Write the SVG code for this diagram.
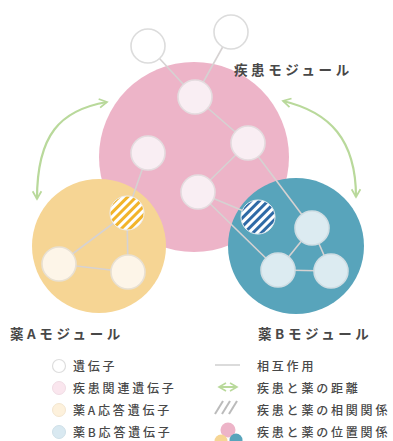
<svg xmlns="http://www.w3.org/2000/svg" width="393" height="441" viewBox="0 0 393 441">
<style>
.t{font-family:"Noto Sans CJK JP","Noto Sans",sans-serif;fill:#484848}
.lab{font-size:13.5px;font-weight:700;letter-spacing:3.6px}
.leg{font-size:12px;font-weight:500;letter-spacing:2.8px}
.edge{stroke:#d6d2d2;stroke-width:1.6;fill:none}
.arr{stroke:#b9d99b;stroke-width:2.2;fill:none;marker-start:url(#ah);marker-end:url(#ah)}
.gene{fill:#fff;stroke:#dcdcdc;stroke-width:1.6}
.dn{fill:#f9eef3;stroke:#e4dcdf;stroke-width:1.6}
.an{fill:#fdf5e8;stroke:#e8e0d2;stroke-width:1.6}
.bn{fill:#dcebf1;stroke:#cfdde3;stroke-width:1.6}
</style>
<defs>
<marker id="ah" viewBox="0 0 10 10" refX="8" refY="5" markerWidth="5" markerHeight="5" orient="auto-start-reverse" markerUnits="strokeWidth">
<path d="M1,1 L8,5 L1,9" fill="none" stroke="#b9d99b" stroke-width="1.6"/>
</marker>
<pattern id="hy" width="6" height="6" patternUnits="userSpaceOnUse" patternTransform="rotate(45)">
<rect width="6" height="6" fill="#fff"/><rect width="3" height="6" fill="#f2b42a"/>
</pattern>
<pattern id="hb" width="6" height="6" patternUnits="userSpaceOnUse" patternTransform="rotate(45)">
<rect width="6" height="6" fill="#fff"/><rect width="3" height="6" fill="#2f6aa6"/>
</pattern>
</defs>

<g id="disease-module"><circle cx="194" cy="157" r="95" fill="#edb4c8"/></g>
<g id="drugA-module"><circle cx="99" cy="246" r="67" fill="#f6d594"/></g>
<g id="drugB-module"><circle cx="296" cy="246" r="68" fill="#58a4bb"/></g>

<g id="connectors">
<line class="edge" x1="148" y1="46" x2="195" y2="97"/>
<line class="edge" x1="231" y1="32" x2="195" y2="97"/>
<line class="edge" x1="195" y1="97" x2="248" y2="143"/>
<line class="edge" x1="248" y1="143" x2="198" y2="192"/>
<line class="edge" x1="148" y1="153" x2="127" y2="213"/>
<line class="edge" x1="248" y1="143" x2="312" y2="228"/>
<line class="edge" x1="198" y1="192" x2="258" y2="217"/>
<line class="edge" x1="198" y1="192" x2="278" y2="270"/>
<line class="edge" x1="127" y1="213" x2="59" y2="264"/>
<line class="edge" x1="127" y1="213" x2="128" y2="272"/>
<line class="edge" x1="59" y1="264" x2="128" y2="272"/>
<line class="edge" x1="312" y1="228" x2="278" y2="270"/>
<line class="edge" x1="312" y1="228" x2="331" y2="271"/>
<line class="edge" x1="278" y1="270" x2="331" y2="271"/>
<path class="arr" d="M107,102 C60,110 37,135 37,199"/>
<path class="arr" d="M283,101 C330,112 356,140 356,197"/>
</g>

<g id="gene1"><circle class="gene" cx="148" cy="46" r="17"/></g>
<g id="gene2"><circle class="gene" cx="231" cy="32" r="17"/></g>
<g id="d1"><circle class="dn" cx="195" cy="97" r="17"/></g>
<g id="d2"><circle class="dn" cx="248" cy="143" r="17"/></g>
<g id="d3"><circle class="dn" cx="148" cy="153" r="17"/></g>
<g id="d4"><circle class="dn" cx="198" cy="192" r="17"/></g>
<g id="a-hatch"><circle cx="127" cy="213" r="17" fill="url(#hy)" stroke="#eee" stroke-width="1"/></g>
<g id="a1"><circle class="an" cx="59" cy="264" r="17"/></g>
<g id="a2"><circle class="an" cx="128" cy="272" r="17"/></g>
<g id="b-hatch"><circle cx="258" cy="217" r="17" fill="url(#hb)" stroke="#e8eef2" stroke-width="1"/></g>
<g id="b1"><circle class="bn" cx="312" cy="228" r="17"/></g>
<g id="b2"><circle class="bn" cx="278" cy="270" r="17"/></g>
<g id="b3"><circle class="bn" cx="331" cy="271" r="17"/></g>

<g id="labels">
<text class="t lab" x="234" y="75">疾患モジュール</text>
<text class="t lab" x="10" y="339">薬Aモジュール</text>
<text class="t lab" x="258" y="339">薬Bモジュール</text>
</g>

<g id="legend">
<circle cx="59" cy="366" r="6.5" fill="#fff" stroke="#ddd" stroke-width="1.2"/>
<circle cx="59" cy="388" r="6.5" fill="#fae6ee" stroke="#f0dce4" stroke-width="1"/>
<circle cx="59" cy="410" r="6.5" fill="#fdf1dc" stroke="#f3e6cf" stroke-width="1"/>
<circle cx="59" cy="432" r="6.5" fill="#d9e9f1" stroke="#cfe0e8" stroke-width="1"/>
<text class="t leg" x="73" y="371">遺伝子</text>
<text class="t leg" x="73" y="393">疾患関連遺伝子</text>
<text class="t leg" x="73" y="415">薬A応答遺伝子</text>
<text class="t leg" x="73" y="437">薬B応答遺伝子</text>
<line x1="215" y1="365" x2="240" y2="365" stroke="#ccc" stroke-width="1.4"/>
<path d="M219,387 L237,387" stroke="#b9d99b" stroke-width="2" fill="none" marker-start="url(#ah)" marker-end="url(#ah)"/>
<g stroke="#bbb" stroke-width="2">
<line x1="215" y1="414" x2="223" y2="401"/>
<line x1="222" y1="414" x2="230" y2="401"/>
<line x1="229" y1="414" x2="237" y2="401"/>
</g>
<circle cx="228" cy="430" r="7.5" fill="#edb4c8"/>
<circle cx="221" cy="441" r="6.5" fill="#f6d594"/>
<circle cx="236" cy="440" r="6.5" fill="#58a4bb"/>
<text class="t leg" x="257" y="371">相互作用</text>
<text class="t leg" x="257" y="393">疾患と薬の距離</text>
<text class="t leg" x="257" y="415">疾患と薬の相関関係</text>
<text class="t leg" x="257" y="437">疾患と薬の位置関係</text>
</g>
</svg>
